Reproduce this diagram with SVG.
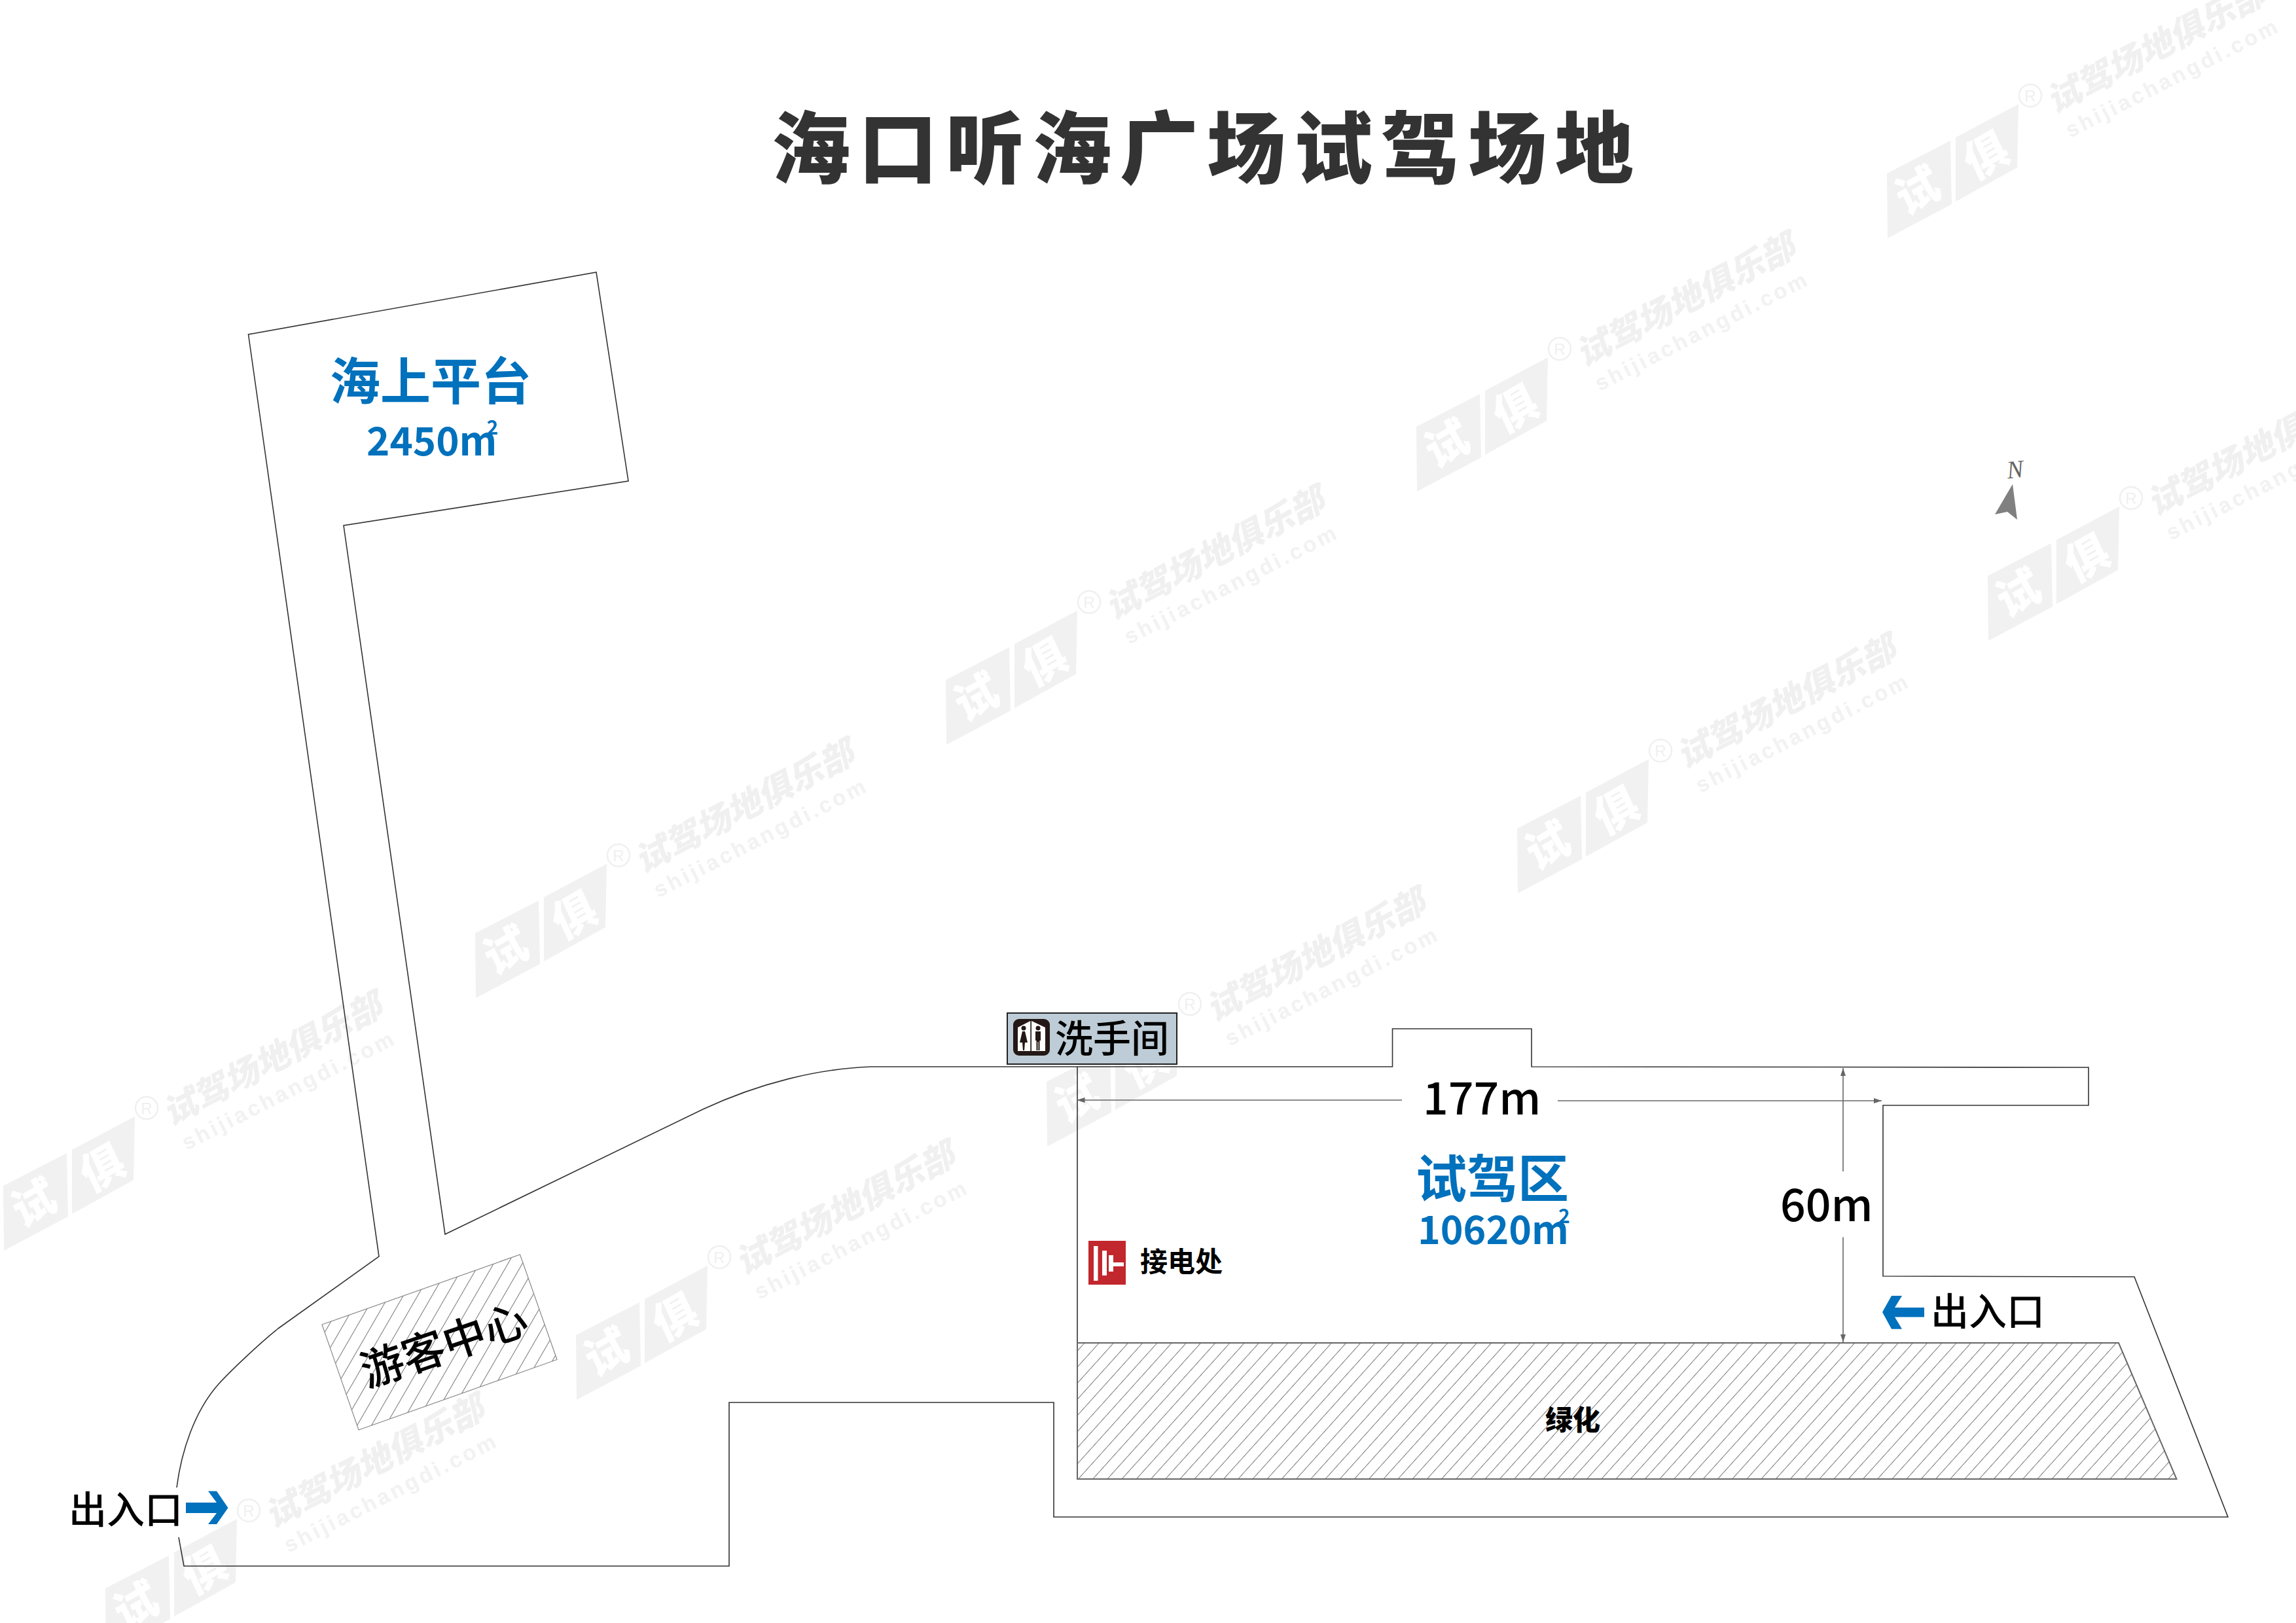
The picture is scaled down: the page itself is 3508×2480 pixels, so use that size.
<svg xmlns="http://www.w3.org/2000/svg" xmlns:xlink="http://www.w3.org/1999/xlink" width="3508" height="2480" viewBox="0 0 3508 2480">
<style>
text{font-family:"Noto Sans CJK SC","Noto Sans",sans-serif}
.o{fill:none;stroke:#333;stroke-width:1.6;stroke-linejoin:miter}
.d{fill:none;stroke:#666;stroke-width:1.6}
.ah{fill:#666}
.k{fill:#000;font-weight:500}
.b{fill:#0071bc;font-weight:700}
.wf{fill:#f1f1f1}
.wt{fill:#f0f0f0;font-weight:900}
.lg{fill:#fff;font-weight:900;font-size:68px}
.ar{fill:#0071bc}
</style>
<defs>
<pattern id="h1" width="16.5" height="16.5" patternUnits="userSpaceOnUse" patternTransform="translate(1646 2050) rotate(-48)"><line x1="0" y1="8.25" x2="16.5" y2="8.25" stroke="#777" stroke-width="1"/></pattern>
<pattern id="h2" width="19" height="19" patternUnits="userSpaceOnUse" patternTransform="translate(492 2022) rotate(-60)"><line x1="0" y1="9.5" x2="19" y2="9.5" stroke="#777" stroke-width="1"/></pattern>
<g id="wm">
<polygon class="wf" points="0,0 -1,-99 96,-149 98,-52"/>
<polygon class="wf" points="104,-56 104,-154 200,-205 198,-108"/>
<text class="lg" transform="translate(46,-72) matrix(.86,-.5,.42,.9,0,0) translate(-34,24)">试</text>
<text class="lg" transform="translate(151,-126) matrix(.86,-.5,.42,.9,0,0) translate(-34,24)">俱</text>
<circle cx="218" cy="-218" r="17" fill="none" stroke="#f0f0f0" stroke-width="2.500"/>
<text x="218" y="-209" text-anchor="middle" font-size="24" fill="#f0f0f0" style="font-family:'Liberation Sans',sans-serif">R</text>
<text class="wt" font-size="53" transform="translate(254,-190) matrix(.885,-.465,.24,.97,0,0)">试驾场地俱乐部</text>
<text font-size="33" font-weight="700" fill="#f2f2f2" letter-spacing="4.400" transform="translate(279,-153) rotate(-27)" style="font-family:'Liberation Sans',sans-serif">shijiachangdi.com</text>
</g>
<marker id="ma" viewBox="0 0 12 8" refX="12" refY="4" markerWidth="12" markerHeight="8" markerUnits="userSpaceOnUse" orient="auto"><path class="ah" d="M0 0L12 4L0 8Z"/></marker>
</defs>
<rect width="3508" height="2480" fill="#fff"/>
<g id="watermarks">
<use xlink:href="#wm" href="#wm" x="2884" y="364"/>
<use xlink:href="#wm" href="#wm" x="2165" y="751"/>
<use xlink:href="#wm" href="#wm" x="1446" y="1138"/>
<use xlink:href="#wm" href="#wm" x="727" y="1525"/>
<use xlink:href="#wm" href="#wm" x="6" y="1911"/>
<use xlink:href="#wm" href="#wm" x="3038" y="979"/>
<use xlink:href="#wm" href="#wm" x="2319" y="1365"/>
<use xlink:href="#wm" href="#wm" x="1600" y="1752"/>
<use xlink:href="#wm" href="#wm" x="881" y="2139"/>
<use xlink:href="#wm" href="#wm" x="162" y="2526"/>
</g>
<text id="title" x="1179" y="271" font-size="120" font-weight="900" letter-spacing="13" fill="#333">海口听海广场试驾场地</text>
<g id="diagram" transform="translate(0,2)">
<g id="site-outline">
<path class="o" d="M270 2271C277 2216 297 2155 333 2114C350 2095 395 2052 425 2028L579 1918L379.500 509L911 414L960 733L525 801L680 1884L1074 1693C1160 1653 1250 1631 1331 1628L2127.500 1628L2127.500 1570L2340 1570L2340 1628L3191 1629L3191 1687L2877 1687L2877 1948L3261 1949L3404 2316L1610 2316L1610 2141L1114 2141L1114 2391L281 2391L273 2347"/>
</g>
<g id="test-area">
<line class="o" x1="1646" y1="1628" x2="1646" y2="2050"/>
<text class="b" x="2280" y="1828" font-size="78" text-anchor="middle">试驾区</text>
<text class="b" x="2166" y="1899" font-size="59">10620m<tspan dx="-16" dy="-32" font-size="30">2</tspan></text>
</g>
<g id="green">
<polygon points="1646,2050 3237,2050 3325.500,2258 1646,2258" fill="url(#h1)" stroke="#666" stroke-width="2"/>
<text class="k" x="2403" y="2183" font-size="42" style="font-weight:900" text-anchor="middle">绿化</text>
</g>
<g id="visitor-center">
<polygon points="492,2022 794.500,1915 851,2075.500 548,2183" fill="url(#h2)" stroke="#888" stroke-width="1.200"/>
<text class="k" font-size="66" text-anchor="middle" transform="translate(686,2076) rotate(-18.800)">游客中心</text>
</g>
<g id="sea-platform">
<text class="b" x="658" y="609" font-size="77" text-anchor="middle">海上平台</text>
<text class="b" x="560" y="694" font-size="60">2450m<tspan dx="-16" dy="-32" font-size="30">2</tspan></text>
</g>
<g id="washroom">
<rect x="1539" y="1546" width="259" height="78" fill="#bdccd6" stroke="#222" stroke-width="2"/>
<rect x="1548" y="1555" width="56" height="56" rx="9" fill="#231815"/>
<polygon points="1555,1568 1574.300,1558 1574.300,1604 1555,1604" fill="#fff"/>
<polygon points="1576,1558 1597,1568 1597,1604 1576,1604" fill="#fff"/>
<circle cx="1564" cy="1569" r="3.500" fill="#231815"/>
<circle cx="1586" cy="1569" r="3.500" fill="#231815"/>
<polygon points="1562,1574 1566,1574 1570,1591 1566,1591 1565,1603 1563,1603 1562,1591 1558,1591" fill="#231815"/>
<path d="M1582 1574H1590V1588H1588.500V1603H1586.500V1590H1585.500V1603H1583.500V1588H1582Z" fill="#231815"/>
<text class="k" x="1612" y="1606" font-size="58">洗手间</text>
</g>
<g id="power">
<rect x="1663" y="1894" width="57" height="67" fill="#c1272d"/>
<rect x="1671" y="1902" width="6.500" height="53" fill="#fff"/>
<rect x="1684" y="1909" width="7" height="38" fill="#fff"/>
<rect x="1694" y="1916" width="7" height="25" fill="#fff"/>
<rect x="1701" y="1927" width="16" height="6" fill="#fff"/>
<text class="k" x="1742" y="1941" font-size="42" style="font-weight:700">接电处</text>
</g>
<g id="north">
<polygon points="3075,737.700 3048,784 3067,780 3082,792" fill="#808080"/>
<text x="3079" y="728" font-size="38" font-style="italic" fill="#666" text-anchor="middle" transform="rotate(-6 3079 717)" style="font-family:'Liberation Serif',serif">N</text>
</g>
<g id="entrance-left">
<text class="k" x="105" y="2326" font-size="58">出入口</text>
<polygon class="ar" points="348.500,2302 331,2276.500 318,2276.500 331,2294 284,2294 284,2310 331,2310 318,2327 331,2327"/>
</g>
<g id="entrance-right">
<text class="k" x="2950" y="2023" font-size="58">出入口</text>
<polygon class="ar" points="2876,2003 2890,1978 2906,1978 2895,1996 2940,1996 2940,2010.500 2895,2010.500 2906,2028.700 2890,2028.700"/>
</g>
<g id="connectors">
<line class="d" x1="2142" y1="1679" x2="1645.500" y2="1679" marker-end="url(#ma)"/>
<line class="d" x1="2380" y1="1680" x2="2875" y2="1680" marker-end="url(#ma)"/>
<line class="d" x1="2816" y1="1788" x2="2816" y2="1630" marker-end="url(#ma)"/>
<line class="d" x1="2816" y1="1888.500" x2="2816" y2="2049" marker-end="url(#ma)"/>
</g>
<g id="dimension-labels">
<text class="k" x="2174" y="1701" font-size="68">177m</text>
<text class="k" x="2720" y="1864" font-size="68">60m</text>
</g>
</g>
</svg>
